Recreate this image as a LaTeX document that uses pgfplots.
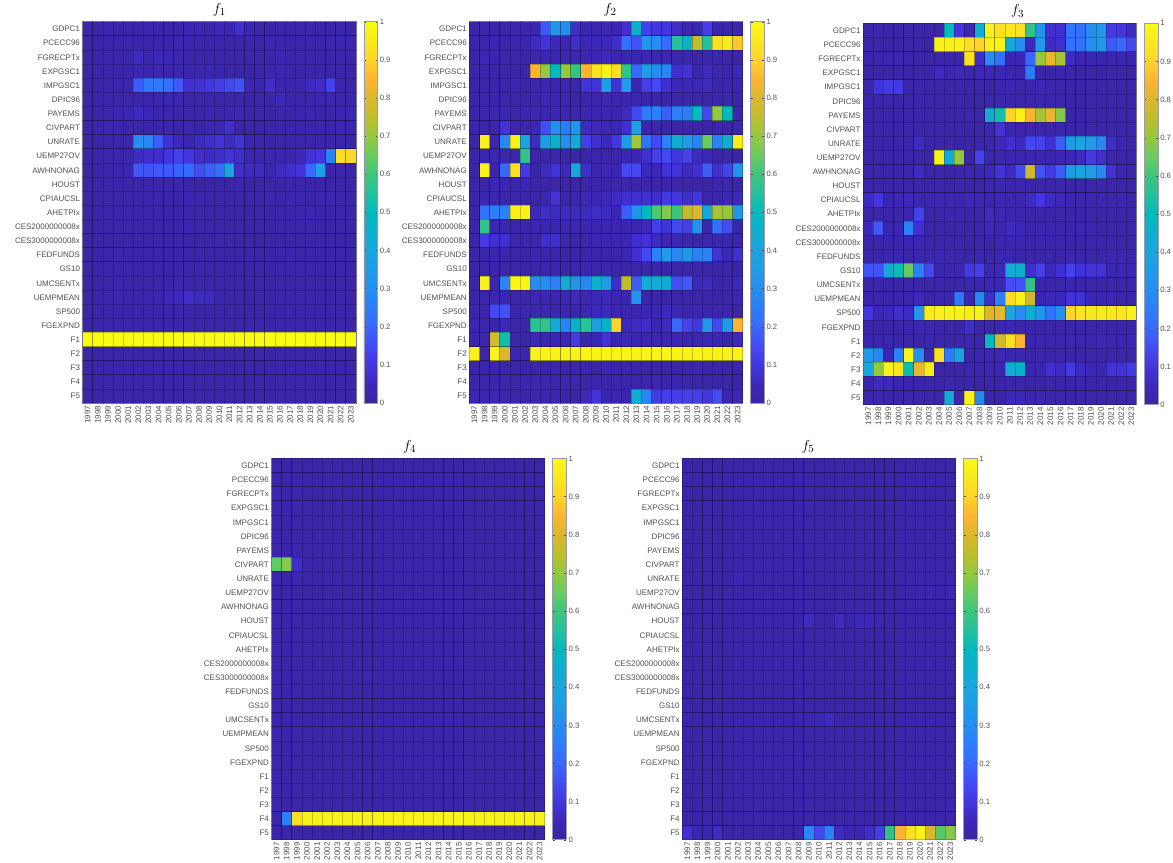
\documentclass[border=0pt]{standalone}
\usepackage{fontspec}
\setmainfont{Liberation Sans}
\usepackage{pgfplots}
\usepackage{pgfplotstable}
\pgfplotsset{compat=1.18}
\definecolor{txt}{HTML}{505050}
\definecolor{edge}{HTML}{9A9AA8}

% values are in percent of the colour scale; rows = variables, columns = 1997..2023
\pgfplotstableread[header=false]{
2 2 3 2 2 2 3 2 2 2 4 4 2 5 3 8 4 2 2 2 2 2 2 2 2 2 2
2 2 2 2 2 2 2 2 2 3 3 2 2 3 2 2 3 2 3 2 2 2 2 2 3 3 3
2 2 2 2 2 6 2 5 4 3 2 2 2 2 2 2 3 2 2 4 2 2 2 2 2 2 2
2 2 2 2 2 3 3 3 3 3 3 3 3 3 2 2 2 3 3 3 2 2 2 2 2 3 2
2 2 2 3 3 18 24 24 22 17 8 9 10 12 14 16 4 3 7 3 3 4 6 7 13 2 2
2 2 2 2 2 2 2 2 3 3 2 2 2 2 2 2 2 2 2 5 2 2 2 3 3 2 2
2 2 2 3 3 6 5 2 3 2 2 2 3 2 3 4 2 2 2 2 2 3 3 2 2 3 3
2 2 3 3 2 2 2 2 3 2 3 2 4 4 8 2 2 2 2 2 2 2 2 2 2 3 3
2 2 2 2 2 30 28 18 9 5 3 6 7 9 6 9 4 3 2 2 2 2 2 2 2 2 2
2 2 2 2 2 6 7 7 10 13 10 7 6 7 9 7 3 3 3 3 3 5 9 10 27 92 91
2 2 2 3 3 17 16 17 17 19 20 15 18 21 38 7 6 6 3 6 8 9 20 37 2 2 2
2 2 2 2 2 2 2 2 2 2 2 2 2 2 2 3 2 2 2 2 2 2 2 2 2 2 2
2 2 2 2 2 2 3 3 2 2 3 3 2 2 2 2 3 3 3 2 3 3 2 3 3 2 2
2 2 2 2 2 2 2 2 2 2 2 2 2 2 2 2 2 2 2 2 2 3 3 2 2 2 2
2 2 2 2 2 2 2 2 2 2 3 3 2 2 2 2 2 2 2 2 2 2 2 2 2 2 2
2 2 2 2 2 2 2 2 2 2 2 2 2 3 3 2 2 2 2 2 2 2 2 2 2 2 2
2 2 2 3 2 2 2 2 2 2 2 2 2 2 2 2 3 2 2 2 3 2 2 2 2 2 2
2 2 2 2 2 2 2 2 2 2 2 3 2 2 2 2 2 2 2 2 2 2 2 2 2 2 2
2 2 2 3 2 2 2 2 2 3 2 2 2 2 2 2 2 2 2 2 2 2 2 2 2 2 2
2 2 2 3 2 2 3 3 5 5 7 6 6 3 2 2 2 2 2 2 2 2 2 2 2 2 2
2 2 2 2 2 2 2 2 2 3 2 2 2 2 2 2 2 2 2 2 2 2 2 2 2 2 2
2 2 2 2 2 2 2 2 2 2 2 2 2 2 2 2 3 2 2 2 2 2 2 2 2 2 2
100 100 100 100 100 100 100 100 100 100 100 100 100 100 100 100 100 100 100 100 100 100 100 100 100 100 100
2 2 2 2 2 2 2 2 2 2 2 2 2 2 2 2 2 2 2 2 2 2 2 2 2 2 2
2 2 2 2 2 2 2 2 2 2 2 2 2 2 2 2 2 2 2 2 2 2 2 2 2 2 2
2 2 2 2 2 2 2 2 2 2 2 2 2 2 2 2 2 2 2 2 2 2 2 2 2 2 2
2 2 2 2 2 2 2 2 2 2 2 2 2 2 2 2 2 2 2 2 2 2 2 2 2 2 2
}\tabA

\pgfplotstableread[header=false]{
2 2 2 2 3 3 3 17 32 30 7 3 3 4 3 8 47 12 10 10 7 4 3 12 3 3 3
2 2 3 2 3 3 6 9 5 3 7 5 5 5 7 22 16 33 30 20 55 47 75 55 93 96 88
2 5 2 2 2 2 3 3 3 3 3 3 3 5 3 3 3 3 3 3 2 2 2 3 3 2 2
2 2 2 2 2 2 85 70 50 70 58 85 94 98 93 57 20 37 30 28 8 9 3 6 3 3 5
2 2 2 2 4 2 3 3 3 3 3 9 9 36 9 35 3 12 14 8 5 5 5 6 3 3 3
2 2 2 2 2 2 3 4 4 3 2 3 2 4 3 3 4 2 2 2 2 2 2 2 3 3 2
2 2 3 3 2 3 4 3 4 3 3 3 3 3 2 6 14 25 26 18 26 25 50 14 70 50 3
2 2 2 9 3 3 4 15 30 25 32 6 5 4 4 8 38 2 2 2 2 2 2 2 2 2 3
2 98 3 28 98 40 6 36 45 30 42 12 8 5 10 36 72 23 14 27 45 35 27 65 27 45 96
2 3 3 2 2 58 2 2 2 2 2 2 2 2 2 4 4 8 12 14 10 13 6 5 2 2 2
2 98 2 20 93 11 3 6 9 5 40 7 3 4 3 14 14 5 4 9 9 6 8 18 8 13 32
2 2 4 3 3 3 2 2 2 2 2 2 3 2 2 2 2 2 2 2 2 2 2 2 3 3 2
2 3 3 2 3 3 2 3 9 3 3 5 4 5 6 8 8 8 7 11 10 7 10 3 3 4 5
2 22 26 26 97 98 5 7 6 6 6 6 7 6 3 18 32 50 62 68 60 75 80 42 72 70 33
2 58 3 3 3 3 3 3 3 4 4 3 3 3 3 3 3 5 12 9 14 12 32 3 22 15 3
2 11 8 8 4 3 3 7 8 3 3 3 3 3 3 3 8 9 6 3 4 4 3 4 3 4 3
2 2 3 2 2 2 3 2 2 2 2 3 2 2 2 3 8 14 26 35 28 34 26 27 9 5 8
2 2 2 2 2 2 2 3 3 2 3 3 2 3 2 2 2 2 2 2 2 2 2 2 2 2 2
2 98 3 27 99 99 30 30 26 43 32 28 46 36 7 75 18 43 42 44 15 17 5 6 3 3 5
2 2 3 3 2 2 4 3 3 4 5 4 5 5 3 3 32 2 2 2 2 2 2 2 2 2 4
2 2 14 16 3 3 3 3 3 3 3 4 5 5 3 3 3 4 3 5 4 3 4 3 3 3 2
3 3 2 5 2 2 56 58 43 27 47 56 36 47 90 5 6 7 3 6 20 13 10 33 14 35 85
2 2 78 52 2 2 4 3 4 4 11 3 4 9 3 5 4 3 3 3 4 3 3 5 4 3 5
98 2 98 80 3 4 98 98 98 98 98 98 98 98 98 98 98 98 98 98 98 98 98 98 98 98 98
2 2 2 2 2 2 2 2 3 2 3 3 2 4 2 2 2 2 2 2 2 2 4 2 2 2 2
2 2 2 2 2 3 3 3 3 3 3 2 3 2 2 2 2 2 3 2 3 2 2 2 2 2 2
3 3 3 3 2 2 3 3 3 2 2 5 9 3 3 2 45 27 11 12 12 12 12 10 15 3 4
}\tabB

\pgfplotstableread[header=false]{
2 3 2 2 2 2 2 2 50 10 3 45 97 93 95 93 58 33 8 8 23 22 30 34 11 10 6
2 2 2 2 2 2 2 98 97 97 92 90 97 98 42 30 5 34 6 8 22 22 30 34 17 20 14
2 2 3 3 2 2 2 2 2 2 93 7 29 22 3 4 20 70 82 72 6 3 3 3 3 3 3
2 2 2 2 2 2 2 6 4 5 3 5 4 4 3 2 25 2 2 2 2 2 2 2 3 2 2
2 9 11 11 2 2 2 2 2 2 2 2 2 3 4 2 2 4 3 2 2 2 2 2 2 2 2
2 2 3 2 2 2 2 2 2 2 2 2 3 3 2 2 2 3 3 2 2 2 2 2 2 2 2
2 2 2 2 2 2 2 2 2 2 3 3 43 53 90 97 85 72 82 68 2 2 2 2 2 2 2
2 2 2 2 2 2 2 2 2 2 2 2 3 9 3 2 2 2 2 2 2 2 2 2 2 2 2
2 2 2 2 2 6 2 2 2 2 2 2 2 5 8 5 14 13 8 18 36 40 35 28 7 3 2
2 2 2 2 2 2 2 98 42 70 2 13 3 3 3 3 3 3 3 4 5 6 11 8 2 2 2
2 2 2 2 2 6 2 2 2 2 3 3 5 9 6 14 78 16 11 18 36 41 36 28 9 3 2
2 2 2 2 2 2 2 3 2 3 2 2 3 3 2 3 2 2 2 2 2 2 2 2 2 2 2
6 10 4 4 5 3 3 4 4 4 5 4 3 4 3 3 6 10 6 5 3 3 3 3 3 3 2
2 2 2 2 3 13 2 2 3 3 2 2 6 4 3 3 2 2 2 2 2 2 2 2 2 2 2
5 17 3 3 27 8 2 2 2 2 2 3 5 3 6 5 2 2 3 2 2 3 3 2 2 2 2
2 2 2 2 3 3 2 2 3 2 2 2 2 3 3 3 2 3 2 2 2 2 2 3 2 2 2
2 2 3 3 2 3 3 4 3 3 2 4 2 3 3 2 2 2 2 2 3 2 2 2 3 3 3
16 16 42 52 65 26 14 3 4 4 11 12 3 5 42 45 7 12 5 8 13 9 9 9 4 4 4
2 2 2 2 2 2 2 2 2 2 3 3 4 4 15 16 58 2 2 2 3 2 2 2 2 2 2
2 2 2 2 2 5 2 3 3 23 4 28 7 26 92 98 78 3 5 5 9 9 4 4 4 2 2
10 4 5 7 6 32 96 97 98 97 96 98 80 82 40 29 44 33 22 30 90 94 95 96 95 94 97
2 2 2 2 3 3 3 2 2 2 7 2 2 3 4 2 2 2 2 2 2 2 2 2 2 2 2
3 3 3 2 2 2 3 3 2 2 3 3 50 78 93 85 3 3 3 3 3 3 3 5 3 3 4
34 28 4 27 99 30 3 93 24 38 2 3 4 4 3 3 2 2 2 2 2 2 2 2 2 2 2
40 70 98 95 52 82 96 2 2 2 3 3 3 3 42 47 3 3 8 6 11 6 5 3 9 9 11
2 6 5 2 2 2 2 2 3 2 3 2 2 2 2 2 2 2 2 2 2 2 2 2 2 2 2
2 3 2 2 2 2 2 2 42 3 98 28 2 2 5 5 3 3 2 2 2 2 2 2 2 2 2
}\tabC

\pgfplotstableread[header=false]{
2 2 2 2 2 2 2 2 2 2 2 2 2 2 2 2 2 2 2 2 2 2 2 2 2 2 2
2 2 2 2 2 2 2 2 2 2 2 2 2 2 2 2 2 2 2 2 2 2 2 2 2 2 2
4 2 2 2 2 2 2 2 2 2 2 2 2 2 2 2 2 2 2 2 2 2 2 2 2 2 2
2 2 2 2 2 2 2 2 2 2 2 2 2 2 2 2 2 2 2 2 2 2 2 2 2 2 2
2 2 2 2 2 2 2 2 2 2 2 2 2 2 2 2 2 2 2 2 2 2 2 2 2 2 2
2 2 2 2 2 2 2 2 2 2 2 2 2 2 2 2 2 2 2 2 2 2 2 2 2 2 2
2 2 2 2 2 2 2 2 2 2 2 2 2 2 2 2 2 2 2 2 2 2 2 2 2 2 2
64 68 7 3 2 2 2 2 2 2 2 2 2 2 2 2 2 2 2 2 2 2 2 2 2 2 2
2 2 2 2 2 2 2 2 2 2 2 2 2 2 2 2 2 2 2 2 2 2 2 2 2 2 2
2 2 2 2 2 2 2 2 2 2 2 2 2 2 2 2 2 2 2 2 2 2 2 2 2 2 2
2 2 2 2 2 2 2 2 2 2 2 2 2 2 2 2 2 2 2 2 2 2 2 2 2 2 2
2 2 2 2 2 2 2 2 2 2 2 2 2 2 2 2 2 2 2 2 2 2 2 2 2 2 2
2 2 2 2 2 2 2 2 2 2 2 2 2 2 2 2 2 2 2 2 2 2 2 2 2 2 2
2 2 2 2 2 2 2 2 2 2 2 2 2 2 2 2 2 2 2 2 2 2 2 2 2 2 2
2 2 2 2 2 2 2 2 2 2 2 2 2 2 2 2 2 2 2 2 2 2 2 2 2 2 2
2 2 2 2 2 2 2 2 2 3 2 2 2 2 2 2 2 2 2 2 2 2 2 2 2 2 2
2 2 2 2 2 2 2 2 2 2 2 2 2 2 2 2 2 2 2 2 2 2 2 2 2 2 2
2 2 2 2 2 2 2 2 2 2 2 2 2 2 2 2 2 2 2 2 2 2 2 2 2 2 2
2 2 2 2 2 2 2 2 2 2 2 2 2 2 2 2 2 2 2 2 2 2 2 2 2 2 2
2 2 2 2 2 2 2 2 2 2 2 2 2 2 2 2 2 2 2 2 2 2 2 2 2 2 2
2 2 2 2 2 2 2 2 2 2 2 2 2 2 2 2 2 2 2 2 2 2 2 2 2 2 2
2 2 2 2 2 2 2 2 2 2 2 2 2 2 2 2 2 2 2 2 2 2 2 2 2 2 2
2 2 2 2 2 2 2 2 2 2 2 2 2 2 2 2 2 2 2 2 2 2 2 2 2 2 2
2 2 2 2 2 2 2 2 2 2 2 2 2 2 2 2 2 2 2 2 2 2 2 2 2 2 2
2 2 2 2 2 2 2 2 2 2 2 2 2 2 2 2 2 2 2 2 2 2 2 2 2 2 2
2 26 92 98 98 98 98 98 98 98 98 98 98 98 98 98 98 98 98 98 98 98 98 98 98 98 98
2 2 2 2 2 2 2 2 2 2 2 2 2 2 2 2 2 2 2 2 2 2 2 2 2 2 2
}\tabD

\pgfplotstableread[header=false]{
2 2 2 2 2 2 2 2 2 2 2 2 2 2 2 2 2 2 2 2 2 2 2 2 2 2 2
2 2 2 2 2 2 2 2 2 2 2 2 2 2 2 2 2 2 2 2 2 2 2 2 2 2 2
2 2 2 2 2 2 2 2 2 2 2 2 2 2 2 2 2 2 2 2 2 2 2 2 2 2 2
2 2 2 2 2 2 2 2 2 2 2 2 2 2 2 2 2 2 2 2 2 2 2 2 2 2 2
2 2 2 2 2 2 2 2 2 2 2 2 2 2 2 2 2 2 2 2 2 2 2 2 2 2 2
2 2 2 2 2 2 2 2 2 2 2 2 2 2 2 2 2 2 2 2 2 2 2 2 2 2 2
2 2 2 2 2 2 2 2 2 2 2 2 2 2 2 2 2 2 2 2 2 2 2 2 2 2 2
2 2 2 2 2 2 2 2 2 2 2 2 2 2 2 2 2 2 2 2 2 2 2 2 2 2 2
2 2 2 2 2 4 2 2 2 2 2 2 2 2 2 2 2 2 2 2 2 2 2 2 2 2 2
2 2 2 2 2 2 2 2 2 2 2 2 2 2 2 2 2 2 2 2 2 2 2 2 3 2 4
2 2 2 2 2 2 2 2 2 2 2 2 2 2 2 2 2 2 2 2 2 2 2 2 2 2 2
2 2 2 2 2 2 2 2 2 2 2 2 6 2 2 6 2 5 5 3 2 2 2 2 2 2 2
2 2 2 2 2 2 2 2 2 2 2 2 2 2 2 2 2 2 2 2 2 2 2 2 2 2 2
2 2 2 2 2 2 2 2 2 2 2 2 2 2 2 2 2 2 2 2 2 2 2 2 2 2 2
2 2 2 2 2 2 2 2 2 2 2 2 2 2 2 2 2 2 2 2 2 2 2 2 2 2 2
2 2 2 2 2 2 2 2 2 2 2 2 2 2 2 2 2 2 2 2 2 2 2 2 2 2 2
2 2 2 2 2 2 2 2 2 2 2 2 2 2 2 2 2 2 2 2 2 2 2 2 2 2 2
2 2 2 2 2 2 2 2 2 2 2 2 2 2 2 2 2 2 2 2 2 2 2 2 2 2 2
2 2 2 2 2 2 2 2 2 2 2 2 3 4 6 2 2 2 2 2 2 2 2 2 2 2 2
2 2 2 2 2 2 2 2 2 2 2 2 2 2 2 2 2 2 2 2 2 2 2 2 2 2 2
2 2 2 2 2 2 2 2 2 2 2 2 2 2 2 2 2 2 2 2 2 2 2 2 2 2 2
2 2 2 2 2 2 2 2 2 2 2 2 2 2 2 2 2 2 2 2 2 2 2 2 2 2 2
2 2 2 2 2 2 2 2 2 2 2 2 2 2 2 2 2 2 2 2 2 2 2 2 2 2 2
2 2 2 2 2 2 2 2 2 2 2 2 2 2 2 2 2 2 2 2 2 2 2 2 2 2 2
2 2 2 2 2 2 2 2 2 2 2 2 2 2 2 2 2 2 2 2 2 2 2 2 2 2 2
2 2 2 2 2 2 2 2 2 2 2 2 2 2 2 2 2 2 2 2 2 2 2 2 2 2 2
8 3 3 6 2 2 2 2 2 2 2 2 28 14 27 6 4 3 7 12 58 85 93 97 80 63 68
}\tabE

\pgfdeclareplotmark{hcell}{%
  \pgfpathrectangle{\pgfpoint{-5.063pt}{-7.067pt}}{\pgfpoint{10.126pt}{14.133pt}}%
  \pgfusepathqfillstroke}

\pgfplotsset{
  colormap={parula}{
    rgb255=(58,36,160) rgb255=(60,40,185) rgb255=(68,54,222)
    rgb255=(68,76,244) rgb255=(56,105,252) rgb255=(45,125,250)
    rgb255=(38,142,240) rgb255=(32,155,230) rgb255=(26,165,222)
    rgb255=(14,175,205) rgb255=(2,186,190) rgb255=(35,193,155)
    rgb255=(62,197,125) rgb255=(105,203,95) rgb255=(150,200,62)
    rgb255=(190,190,45) rgb255=(218,183,45) rgb255=(254,180,50)
    rgb255=(255,212,42) rgb255=(250,232,30) rgb255=(249,251,21)},
  heat/.style={
    scale only axis, width=273.4pt, height=381.6pt, anchor=north west,
    xmin=-0.5, xmax=26.5, ymin=-0.5, ymax=26.5, y dir=reverse,
    colormap name=parula, point meta min=0, point meta max=1,
    xtick={0,...,26}, ytick={0,...,26},
    xticklabels={1997,1998,1999,2000,2001,2002,2003,2004,2005,2006,2007,2008,2009,2010,2011,2012,2013,2014,2015,2016,2017,2018,2019,2020,2021,2022,2023},
    yticklabels={GDPC1,PCECC96,FGRECPTx,EXPGSC1,IMPGSC1,DPIC96,PAYEMS,CIVPART,UNRATE,UEMP27OV,AWHNONAG,HOUST,CPIAUCSL,AHETPIx,CES2000000008x,CES3000000008x,FEDFUNDS,GS10,UMCSENTx,UEMPMEAN,SP500,FGEXPND,F1,F2,F3,F4,F5},
    major tick length=0pt,
    tick label style={font=\fontsize{8}{8}\selectfont, text=txt},
    x tick label style={rotate=90, anchor=east, inner sep=2.5pt},
    y tick label style={inner sep=2.5pt, yshift=-0.3pt},
    axis line style={draw=edge, line width=0.6pt},
    axis on top,
    title style={font=\fontsize{15}{15}\selectfont, anchor=south, yshift=-4pt},
    colorbar,
    colorbar style={
      width=13.7pt, xshift=-0.3cm+7.7pt,
      ytick={0,0.1,...,1},
      yticklabels={0,0.1,0.2,0.3,0.4,0.5,0.6,0.7,0.8,0.9,1},
      major tick length=2pt,
      tick align=inside,
      tick style={draw=txt, line width=0.3pt},
      y tick label style={font=\fontsize{7.7}{7.7}\selectfont, text=txt, inner sep=2pt},
      axis line style={draw=edge, line width=0.6pt},
    },
  },
  cellp/.style={
    forget plot, scatter, only marks, mark=hcell, line width=0.7pt, point meta=explicit,
    scatter/use mapped color={draw=black, draw opacity=0.22, fill=mapped color},
  },
}
\newcommand{\cells}[1]{%
  \pgfplotsinvokeforeach{0,...,26}{%
    \addplot[cellp] table[x expr=##1, y expr=\coordindex, meta expr=\thisrowno{##1}/100]{#1};
  }%
}

\begin{document}
\begin{tikzpicture}[x=1pt,y=1pt]
\path (0,0) rectangle (1173,-861);

\begin{axis}[heat, at={(82.7pt,-20.7pt)}, title={$f_1$}, title style={at={(0.5,1)}}]
\cells{\tabA}
\end{axis}

\begin{axis}[heat, at={(469.7pt,-20.7pt)}, title={$f_2$}, title style={at={(0.515,1)}}]
\cells{\tabB}
\end{axis}

\begin{axis}[heat, at={(863.7pt,-22.3pt)}, title={$f_3$}, title style={at={(0.565,1)}}]
\cells{\tabC}
\end{axis}

\begin{axis}[heat, at={(271.7pt,-457.7pt)}, title={$f_4$}, title style={at={(0.505,1)}}]
\cells{\tabD}
\end{axis}

\begin{axis}[heat, at={(682.7pt,-457.7pt)}, title={$f_5$}, title style={at={(0.46,1)}}]
\cells{\tabE}
\end{axis}
\end{tikzpicture}
\end{document}
